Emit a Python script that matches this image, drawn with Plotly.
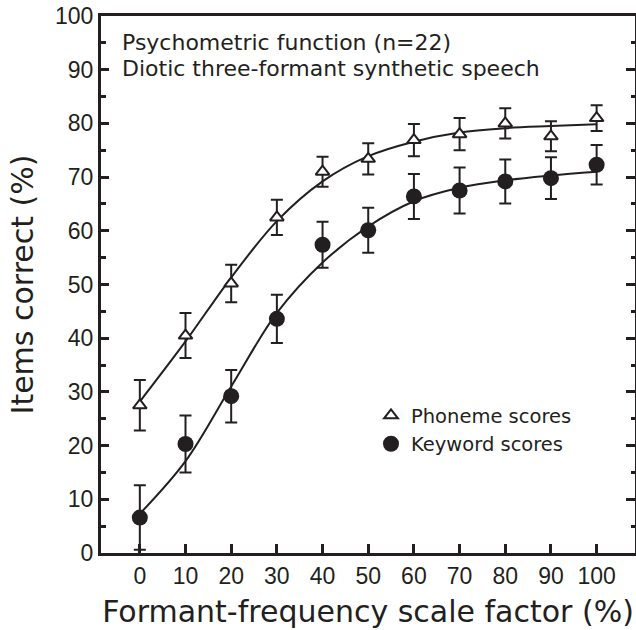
import plotly.graph_objects as go

# ---- data ----
scale_factor = [0, 10, 20, 30, 40, 50, 60, 70, 80, 90, 100]
phoneme_mean = [27.5, 40.5, 50.2, 62.5, 71.0, 73.4, 76.9, 78.0, 80.0, 77.6, 81.0]
phoneme_err = [4.7, 4.2, 3.5, 3.3, 2.8, 2.9, 3.0, 3.0, 2.8, 2.8, 2.4]
keyword_mean = [6.6, 20.3, 29.2, 43.6, 57.4, 60.1, 66.4, 67.5, 69.2, 69.8, 72.3]
keyword_err = [6.0, 5.3, 4.9, 4.5, 4.3, 4.2, 4.2, 4.3, 4.1, 3.9, 3.7]

fit_x = [0, 10, 20, 30, 40, 50, 60, 70, 80, 90, 100]
phoneme_fit = [28.2, 39.4, 51.3, 61.8, 69.2, 73.9, 76.6, 78.3, 79.1, 79.5, 79.85]
keyword_fit = [7.3, 17.1, 31.0, 44.7, 54.1, 60.8, 65.5, 68.0, 69.4, 70.3, 71.0]

x_ticks = [0, 10, 20, 30, 40, 50, 60, 70, 80, 90, 100]
y_ticks = [0, 10, 20, 30, 40, 50, 60, 70, 80, 90, 100]

INK = "#231f20"
FONT = "DejaVu Sans"
TICKFONT = "Liberation Sans"

fig = go.Figure()

fig.add_trace(go.Scatter(x=fit_x, y=phoneme_fit, mode="lines", line=dict(color=INK, width=2, shape="spline"),
                         showlegend=False, hoverinfo="skip"))
fig.add_trace(go.Scatter(x=fit_x, y=keyword_fit, mode="lines", line=dict(color=INK, width=2, shape="spline"),
                         showlegend=False, hoverinfo="skip"))

fig.add_trace(go.Scatter(
    x=scale_factor, y=phoneme_mean, mode="markers", name="Phoneme scores",
    marker=dict(symbol="triangle-up", size=12, color="white", line=dict(color=INK, width=2)),
    error_y=dict(type="data", array=phoneme_err, color=INK, thickness=2, width=6),
))
fig.add_trace(go.Scatter(
    x=scale_factor, y=keyword_mean, mode="markers", name="Keyword scores",
    marker=dict(symbol="circle", size=16, color=INK, line=dict(color=INK, width=0)),
    error_y=dict(type="data", array=keyword_err, color=INK, thickness=2, width=6),
))

fig.add_annotation(text="Psychometric function (n=22)", xref="paper", yref="paper", x=0.035, y=0.95,
                   xanchor="left", yanchor="middle", showarrow=False, font=dict(family=FONT, size=22, color=INK))
fig.add_annotation(text="Diotic three-formant synthetic speech", xref="paper", yref="paper", x=0.035, y=0.902,
                   xanchor="left", yanchor="middle", showarrow=False, font=dict(family=FONT, size=22, color=INK))

fig.update_layout(
    width=636, height=630,
    margin=dict(l=101, r=1, t=16, b=77),
    plot_bgcolor="white", paper_bgcolor="white",
    font=dict(family=FONT, color=INK),
    legend=dict(x=0.5056, y=0.292, xanchor="left", yanchor="top", bgcolor="rgba(0,0,0,0)",
                font=dict(family=FONT, size=19.5, color=INK), tracegroupgap=0),
    xaxis=dict(range=[-8.5, 108.4], tickvals=x_ticks, ticks="inside", ticklen=9, tickwidth=2.5,
               tickcolor=INK, showline=True, linewidth=3, linecolor=INK, mirror=True, showgrid=False,
               zeroline=False, tickfont=dict(family=TICKFONT, size=23, color=INK),
               title=dict(text="Formant-frequency scale factor (%)", font=dict(family=FONT, size=30, color=INK),
                          standoff=14)),
    yaxis=dict(range=[0, 100], tickvals=y_ticks, ticks="inside", ticklen=8, tickwidth=2.5, tickcolor=INK,
               showline=True, linewidth=3, linecolor=INK, showgrid=False, zeroline=False,
               minor=dict(ticks="inside", ticklen=5, tickwidth=2.5, tickcolor=INK, dtick=5, showgrid=False),
               tickfont=dict(family=TICKFONT, size=23, color=INK),
               title=dict(text="Items correct (%)", font=dict(family=FONT, size=30, color=INK), standoff=13)),
    yaxis2=dict(range=[0, 100], overlaying="y", side="right", tickvals=y_ticks, ticks="inside", ticklen=9,
                tickwidth=2.5, tickcolor=INK, showline=True, linewidth=1, linecolor=INK, showgrid=False,
                zeroline=False, showticklabels=False,
                minor=dict(ticks="inside", ticklen=4, tickwidth=2.5, tickcolor=INK, dtick=5, showgrid=False)),
)
# invisible trace that activates the right-hand axis
fig.add_trace(go.Scatter(x=[None], y=[None], yaxis="y2", showlegend=False, hoverinfo="skip"))

fig.write_html("out.html")
